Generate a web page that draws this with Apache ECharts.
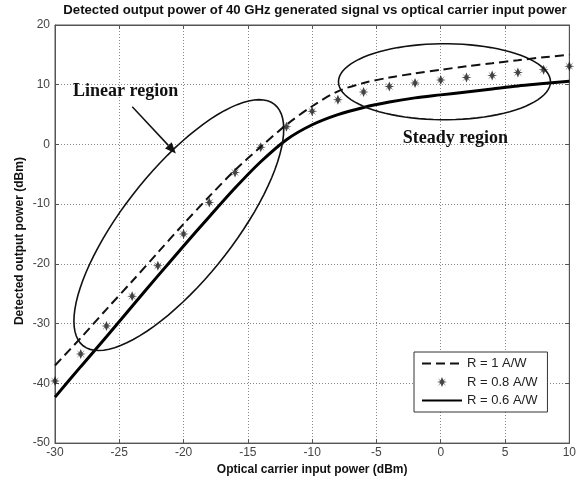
<!DOCTYPE html>
<html>
<head>
    <meta charset="utf-8">
    <title>Detected output power vs optical carrier input power</title>
    <script src="https://cdn.jsdelivr.net/npm/echarts@6/dist/echarts.min.js"></script>
    <style>
        html, body { margin: 0; padding: 0; background: #fff; }
        #mainChart { width: 579px; height: 481px; }
    </style>
</head>
<body>
<div id="mainChart"></div>
<script>
// 光功率 (dBm)
const inputPower = [-30, -28, -26, -24, -22, -20, -18, -16, -14, -12, -10,
                    -8, -6, -4, -2, 0, 2, 4, 6, 8, 10];
// R = 1 A/W (dashed)
const powerR10 = [-37, -32.4, -27.6, -22.9, -18.1, -13.3, -8.7, -4.3, -0.4, 3.3, 6.4,
                  8.9, 10.3, 11.2, 11.9, 12.5, 13.1, 13.6, 14.1, 14.6, 15];
// R = 0.8 A/W (stars)
const powerR08 = [-39.6, -35.1, -30.4, -25.4, -20.3, -15, -9.7, -4.7, -0.45, 2.95, 5.55,
                  7.5, 8.8, 9.7, 10.3, 10.8, 11.2, 11.55, 12.05, 12.5, 13.1];
// R = 0.6 A/W (solid)
const powerR06 = [-42.3, -37.2, -32.2, -27.1, -22, -17, -12.1, -7.3, -2.9, 0.8, 3.3,
                  5, 6.2, 7.1, 7.8, 8.3, 8.8, 9.3, 9.8, 10.2, 10.6];
const seriesNames = ['R = 1 A/W', 'R = 0.8 A/W', 'R = 0.6 A/W'];
const xTicks = { min: -30, max: 10, step: 5 };
const yTicks = { min: -50, max: 20, step: 10 };

// 标注 (anchor in data units)
const annotations = [
    { kind: 'ellipse', x: -20.37, y: -13.5, rx: 154, ry: 55, rot: 51.6 },
    { kind: 'ellipse', x: 0.29, y: 10.5, rx: 106, ry: 38, rot: 0 },
    { kind: 'text', x: -28.6, y: 8.9, text: 'Linear region' },
    { kind: 'text', x: -2.95, y: 1.0, text: 'Steady region' },
    { kind: 'arrow', x: -23.99, y: 6.33, x2: -20.6, y2: -1.5 }
];

const FONT = '"Liberation Sans", Arial, sans-serif';
const STAR = 'M0,-10L3,-3L8,-8L3.5,-1.5L10,0L3.5,1.5L8,8L3,3L0,10L-3,3L-8,8L-3.5,1.5L-10,0L-3.5,-1.5L-8,-8L-3,-3Z';
const pair = ys => inputPower.map((x, i) => [x, ys[i]]);

function renderAnno(params, api) {
    const a = annotations[params.dataIndex];
    const p = api.coord([a.x, a.y]);
    if (a.kind === 'ellipse') {
        const th = a.rot * Math.PI / 180;
        const pts = [];
        for (let k = 0; k <= 90; k++) {
            const t = k / 90 * Math.PI * 2;
            const ex = a.rx * Math.cos(t), ey = a.ry * Math.sin(t);
            pts.push([p[0] + ex * Math.cos(th) + ey * Math.sin(th),
                      p[1] - ex * Math.sin(th) + ey * Math.cos(th)]);
        }
        return { type: 'polyline', shape: { points: pts },
                 style: { stroke: '#111', lineWidth: 1.6, fill: null } };
    }
    if (a.kind === 'text') {
        return { type: 'text', x: p[0], y: p[1],
                 style: { text: a.text, font: 'bold 18px "Liberation Serif", "Times New Roman", serif',
                          fill: '#111', verticalAlign: 'middle', align: 'left' } };
    }
    // arrow
    const q = api.coord([a.x2, a.y2]);
    const dx = q[0] - p[0], dy = q[1] - p[1];
    const len = Math.sqrt(dx * dx + dy * dy);
    const ux = dx / len, uy = dy / len;
    const hl = 11, hw = 4.5;
    const bx = q[0] - ux * hl, by = q[1] - uy * hl;
    return {
        type: 'group',
        children: [
            { type: 'line', shape: { x1: p[0], y1: p[1], x2: bx, y2: by },
              style: { stroke: '#111', lineWidth: 1.5 } },
            { type: 'polygon', shape: { points: [[q[0], q[1]],
                  [bx - uy * hw, by + ux * hw], [bx + uy * hw, by - ux * hw]] },
              style: { fill: '#111' } }
        ]
    };
}

const chart = echarts.init(document.getElementById('mainChart'));

const axisCommon = {
    type: 'value',
    axisLine: { show: true, onZero: false, lineStyle: { color: '#555', width: 1 } },
    axisTick: { show: true, inside: true, length: 4, lineStyle: { color: '#555' } }
};

const option = {
    backgroundColor: '#fff',
    animation: false,
    title: {
        text: 'Detected output power of 40 GHz generated signal vs optical carrier input power',
        left: 315, top: 4, padding: 0, textAlign: 'center',
        textStyle: { fontSize: 13.2, fontWeight: 'bold', fontFamily: FONT, color: '#111' }
    },
    grid: { left: 55, right: 5, top: 25, bottom: 36, show: true, borderColor: '#555', borderWidth: 1 },
    legend: {
        orient: 'vertical', left: 414, top: 352,
        data: [
            { name: seriesNames[0], itemStyle: { opacity: 0 } },
            // padded box so the star stays small inside the legend cell
            { name: seriesNames[1], icon: 'path://M-14,-14L-14,-14M14,14L14,14' + STAR },
            { name: seriesNames[2], itemStyle: { opacity: 0 } }
        ],
        itemWidth: 40, itemHeight: 14, itemGap: 5,
        padding: [5, 10, 5, 7],
        backgroundColor: '#fff', borderColor: '#333', borderWidth: 1, borderRadius: 0,
        textStyle: { fontSize: 13, color: '#222', fontFamily: FONT }
    },
    xAxis: [
        Object.assign({}, axisCommon, {
            min: xTicks.min, max: xTicks.max, interval: xTicks.step,
            name: 'Optical carrier input power (dBm)', nameLocation: 'middle', nameGap: 19,
            nameTextStyle: { fontSize: 12, fontWeight: 'bold', fontFamily: FONT, color: '#111' },
            axisLabel: { margin: 4, fontSize: 12, color: '#444', fontFamily: FONT },
            splitLine: { show: true, lineStyle: { type: [1, 2], color: '#888' } }
        }),
        Object.assign({}, axisCommon, {
            position: 'top', min: xTicks.min, max: xTicks.max, interval: xTicks.step,
            axisLabel: { show: false }, splitLine: { show: false }
        })
    ],
    yAxis: [
        Object.assign({}, axisCommon, {
            min: yTicks.min, max: yTicks.max, interval: yTicks.step,
            name: 'Detected output power (dBm)', nameLocation: 'middle', nameGap: 29,
            nameMoveOverlap: false,
            nameTextStyle: { fontSize: 12, fontWeight: 'bold', fontFamily: FONT, color: '#111',
                             padding: [0, 14, 0, 0] },
            axisLabel: { margin: 5, fontSize: 12, color: '#444', fontFamily: FONT },
            splitLine: { show: true, lineStyle: { type: [1, 2], color: '#888' } }
        }),
        Object.assign({}, axisCommon, {
            position: 'right', min: yTicks.min, max: yTicks.max, interval: yTicks.step,
            axisLabel: { show: false }, splitLine: { show: false }
        })
    ],
    series: [
        {
            name: seriesNames[0], type: 'line', data: pair(powerR10),
            smooth: 0.3, symbol: 'none',
            lineStyle: { type: [9, 5], width: 2, color: '#111' },
            itemStyle: { color: '#111' }
        },
        {
            name: seriesNames[1], type: 'scatter', data: pair(powerR08),
            symbol: 'path://' + STAR,
            symbolSize: 10,
            itemStyle: { color: '#151515' }
        },
        {
            name: seriesNames[2], type: 'line', data: pair(powerR06),
            smooth: 0.3, symbol: 'none',
            lineStyle: { type: 'solid', width: 3, color: '#000' },
            itemStyle: { color: '#000' }
        },
        {
            type: 'custom', silent: true, clip: false, z: 5,
            data: annotations.map(a => [a.x, a.y]),
            renderItem: renderAnno
        }
    ]
};

chart.setOption(option);
</script>
</body>
</html>
